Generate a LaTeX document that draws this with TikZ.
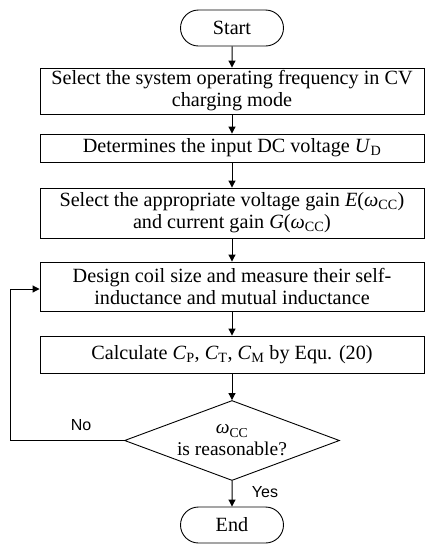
\documentclass[tikz,border=0pt]{standalone}
\usepackage{fontspec}
\setmainfont{Liberation Serif}
\newfontfamily\lblfont{Liberation Sans}
\usetikzlibrary{shapes.geometric,shapes.misc,arrows.meta}
\newcommand\omcc{\textit{ω}\textsubscript{CC}}
\begin{document}
\begin{tikzpicture}[x=1pt,y=-1pt,
  every node/.style={font=\fontsize{20.2}{22}\selectfont},
  procbox/.style={draw,line width=0.9pt,minimum width=384pt,inner sep=0pt,align=center},
  term/.style={draw,line width=0.9pt,rounded rectangle,minimum width=103pt,minimum height=36pt,inner sep=0pt},
  decide/.style={draw,line width=0.9pt,diamond,minimum width=215pt,minimum height=80pt,inner xsep=-2pt,inner ysep=-4pt,aspect=2.7,align=center,font=\fontsize{19.5}{22}\selectfont},
  flow/.style={line width=1pt,-{Triangle[length=7pt,width=7pt]}},
  lbl/.style={font=\lblfont\fontsize{16}{18}\selectfont}]
\useasboundingbox (0,0) rectangle (436,550);
\node[term] (start) at (232,28) {Start};
\node[procbox,minimum height=46pt] (b1) at (232,91) {Select the system operating frequency in CV\\charging mode};
\node[procbox,minimum height=28pt] (b2) at (232,148) {Determines the input DC voltage \textit{U}\textsubscript{D}};
\node[procbox,minimum height=50pt] (b3) at (232,213) {Select the appropriate voltage gain \textit{E}(\omcc)\\and current gain \textit{G}(\omcc)};
\node[procbox,minimum height=49pt] (b4) at (232,286.5) {Design coil size and measure their self-\\inductance and mutual inductance};
\node[procbox,minimum height=37pt] (b5) at (232,354.5) {Calculate \textit{C}\textsubscript{P}, \textit{C}\textsubscript{T}, \textit{C}\textsubscript{M} by Equ. (20)};
\node[decide] (d) at (232,440.5) {\omcc\\is reasonable?};
\node[term] (end) at (232,525) {End};
\coordinate (fbA) at (10,440.5);
\coordinate (fbB) at (10,289);
\draw[flow] (start) -- (b1);
\draw[flow] (b1) -- (b2);
\draw[flow] (b2) -- (b3);
\draw[flow] (b3) -- (b4);
\draw[flow] (b4) -- (b5);
\draw[flow] (b5) -- (d);
\draw[flow] (d) -- (end);
\draw[flow] (d.west) -- (fbA) -- (fbB) -- (b4.west |- fbB);
\node[lbl] (no) at (81,425) {No};
\node[lbl] (yes) at (265,492) {Yes};
\end{tikzpicture}
\end{document}
